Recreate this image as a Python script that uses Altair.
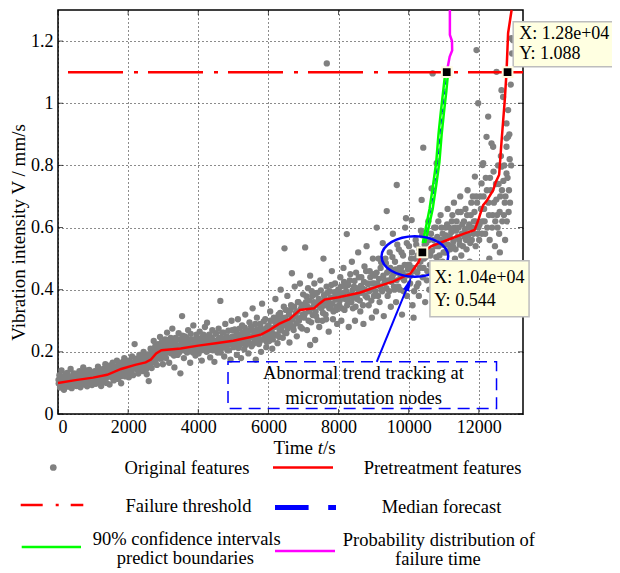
import altair as alt
import pandas as pd

FONT = "Liberation Serif"

# ---------------- data ----------------
seg_0 = [(20,0.098),(40,0.125),(60,0.085),(80,0.112),(100,0.140),(120,0.092),(150,0.105),(170,0.078),(200,0.118),(230,0.097),
         (260,0.132),(280,0.088),(310,0.110),(340,0.101),(360,0.145),(390,0.083),(420,0.121),(450,0.094),(470,0.108),(500,0.130),
         (530,0.090),(560,0.115),(590,0.099),(610,0.138),(640,0.086),(670,0.124),(700,0.106),(720,0.150),(750,0.095),(780,0.118),
         (810,0.128),(830,0.089),(860,0.112),(890,0.142),(910,0.101),(940,0.123),(970,0.093),(990,0.133),
         (15,0.110),(55,0.103),(92,0.121),(133,0.115),(181,0.099),(214,0.128),(247,0.107),(296,0.119),(327,0.090),(372,0.113),
         (405,0.102),(438,0.131),(486,0.116),(517,0.097),(548,0.125),(577,0.108),(623,0.119),(655,0.101),(688,0.134),(733,0.112),
         (768,0.103),(796,0.140),(845,0.121),(877,0.104),(921,0.116),(953,0.128),(984,0.110)]
seg_1 = [(1020,0.108),(1050,0.138),(1080,0.097),(1110,0.122),(1140,0.152),(1170,0.105),(1200,0.130),(1230,0.090),(1260,0.118),
         (1290,0.145),(1320,0.112),(1350,0.160),(1380,0.100),(1410,0.127),(1440,0.141),(1470,0.095),(1500,0.134),(1530,0.118),
         (1560,0.165),(1590,0.108),(1620,0.140),(1650,0.125),(1680,0.172),(1710,0.113),(1740,0.148),(1770,0.131),(1800,0.099),
         (1830,0.158),(1860,0.140),(1890,0.180),(1920,0.121),(1950,0.150),(1980,0.135),(1995,0.165),
         (1008,0.125),(1043,0.117),(1089,0.133),(1127,0.110),(1158,0.141),(1213,0.124),(1244,0.136),(1277,0.105),(1311,0.129),
         (1362,0.147),(1395,0.118),(1428,0.135),(1459,0.122),(1489,0.156),(1518,0.128),(1547,0.143),(1579,0.115),(1611,0.152),
         (1637,0.133),(1669,0.148),(1702,0.126),(1728,0.160),(1759,0.139),(1788,0.121),(1817,0.146),(1848,0.168),(1877,0.132),
         (1908,0.155),(1938,0.143),(1969,0.172)]
seg_2 = [(2020,0.118),(2050,0.158),(2080,0.140),(2110,0.185),(2140,0.125),(2185,0.225),(2200,0.160),(2230,0.145),(2260,0.172),
         (2290,0.130),(2320,0.190),(2350,0.155),(2380,0.168),(2410,0.138),(2440,0.200),(2470,0.150),(2500,0.178),(2530,0.128),
         (2560,0.192),(2588,0.106),(2610,0.165),(2640,0.210),(2670,0.148),(2700,0.185),(2730,0.235),(2760,0.170),(2790,0.205),
         (2820,0.158),(2850,0.225),(2880,0.190),(2910,0.248),(2940,0.178),(2970,0.212),(2990,0.160),
         (2012,0.140),(2037,0.172),(2066,0.151),(2098,0.133),(2126,0.165),(2157,0.148),(2213,0.178),(2244,0.158),(2273,0.141),
         (2307,0.170),(2336,0.182),(2364,0.146),(2397,0.176),(2425,0.160),(2456,0.188),(2486,0.165),(2516,0.145),(2547,0.174),
         (2576,0.157),(2598,0.182),(2626,0.172),(2655,0.195),(2686,0.166),(2716,0.202),(2745,0.183),(2774,0.218),(2806,0.190),
         (2836,0.205),(2866,0.178),(2896,0.215),(2926,0.198),(2955,0.230),(2984,0.205)]
seg_3 = [(3020,0.200),(3050,0.240),(3080,0.180),(3110,0.262),(3140,0.215),(3170,0.165),(3200,0.230),(3230,0.195),(3260,0.275),
         (3290,0.210),(3320,0.150),(3350,0.245),(3380,0.222),(3410,0.190),(3440,0.260),(3470,0.205),(3490,0.131),(3520,0.235),
         (3538,0.315),(3560,0.212),(3590,0.180),(3620,0.250),(3650,0.228),(3680,0.198),(3710,0.270),(3740,0.215),(3770,0.165),
         (3800,0.240),(3830,0.205),(3860,0.285),(3890,0.228),(3920,0.188),(3950,0.255),(3980,0.218),
         (3008,0.222),(3036,0.190),(3066,0.215),(3097,0.238),(3126,0.198),(3156,0.228),(3186,0.210),(3216,0.245),(3246,0.205),
         (3276,0.225),(3306,0.188),(3336,0.232),(3366,0.202),(3396,0.218),(3426,0.240),(3456,0.198),(3506,0.220),(3546,0.252),
         (3576,0.205),(3606,0.230),(3636,0.212),(3666,0.245),(3696,0.200),(3726,0.235),(3756,0.222),(3786,0.258),(3816,0.215),
         (3846,0.198),(3876,0.240),(3906,0.220),(3936,0.205),(3966,0.245),(3994,0.230)]
seg_4 = [(4010,0.195),(4040,0.265),(4070,0.230),(4100,0.172),(4130,0.248),(4160,0.212),(4190,0.280),(4220,0.235),(4250,0.294),
         (4280,0.205),(4310,0.255),(4340,0.182),(4370,0.240),(4400,0.270),(4430,0.220),(4460,0.168),(4490,0.258),(4520,0.232),
         (4550,0.198),(4580,0.275),(4610,0.245),(4629,0.364),(4650,0.210),(4680,0.262),(4710,0.225),(4740,0.185),(4770,0.290),
         (4800,0.240),(4830,0.205),(4860,0.268),(4890,0.228),(4920,0.175),(4950,0.300),(4980,0.250),
         (4023,0.215),(4055,0.242),(4086,0.205),(4115,0.228),(4146,0.255),(4176,0.218),(4206,0.240),(4236,0.200),(4266,0.232),
         (4296,0.250),(4326,0.215),(4356,0.228),(4386,0.245),(4416,0.205),(4446,0.235),(4476,0.222),(4506,0.260),(4536,0.212),
         (4566,0.240),(4596,0.228),(4636,0.198),(4666,0.245),(4696,0.232),(4726,0.262),(4756,0.215),(4786,0.238),(4816,0.250),
         (4846,0.222),(4876,0.205),(4906,0.245),(4936,0.232),(4966,0.270),(4994,0.220)]
seg_5 = [(5010,0.215),(5040,0.272),(5070,0.238),(5100,0.190),(5130,0.305),(5160,0.255),(5190,0.222),(5220,0.180),(5250,0.285),
         (5280,0.245),(5310,0.208),(5340,0.320),(5370,0.262),(5400,0.230),(5430,0.195),(5460,0.295),(5490,0.250),(5520,0.218),
         (5550,0.340),(5580,0.270),(5610,0.235),(5640,0.175),(5670,0.310),(5700,0.258),(5730,0.225),(5760,0.290),(5790,0.200),
         (5820,0.355),(5850,0.268),(5880,0.240),(5910,0.305),(5940,0.215),(5970,0.280),(5995,0.250),
         (5022,0.245),(5054,0.228),(5086,0.262),(5116,0.240),(5146,0.212),(5176,0.275),(5206,0.250),(5236,0.230),(5266,0.262),
         (5296,0.242),(5326,0.278),(5356,0.222),(5386,0.255),(5416,0.240),(5446,0.268),(5476,0.228),(5506,0.282),(5536,0.248),
         (5566,0.225),(5596,0.262),(5626,0.290),(5656,0.240),(5686,0.272),(5716,0.250),(5746,0.232),(5776,0.280),(5806,0.262),
         (5836,0.240),(5866,0.298),(5896,0.255),(5926,0.275),(5956,0.232),(5986,0.265)]
seg_6 = [(6020,0.235),(6050,0.330),(6080,0.275),(6110,0.210),(6140,0.300),(6170,0.255),(6200,0.370),(6230,0.285),(6260,0.228),
         (6290,0.320),(6320,0.268),(6350,0.400),(6380,0.295),(6410,0.245),(6440,0.345),(6459,0.533),(6480,0.310),(6510,0.260),
         (6540,0.380),(6570,0.290),(6600,0.230),(6630,0.335),(6670,0.453),(6690,0.305),(6720,0.270),(6750,0.410),(6780,0.325),
         (6810,0.250),(6840,0.360),(6870,0.300),(6900,0.420),(6930,0.340),(6960,0.275),(6990,0.385),
         (6008,0.285),(6036,0.252),(6066,0.300),(6096,0.265),(6126,0.240),(6156,0.310),(6186,0.280),(6216,0.255),(6246,0.305),
         (6276,0.290),(6306,0.248),(6336,0.325),(6366,0.275),(6396,0.310),(6426,0.285),(6466,0.262),(6496,0.335),(6526,0.298),
         (6556,0.275),(6586,0.320),(6616,0.290),(6646,0.350),(6676,0.305),(6706,0.280),(6736,0.345),(6766,0.315),(6796,0.292),
         (6826,0.330),(6856,0.360),(6886,0.308),(6916,0.280),(6946,0.352),(6976,0.320)]
seg_7 = [(7020,0.310),(7048,0.536),(7070,0.360),(7100,0.270),(7130,0.405),(7160,0.330),(7190,0.445),(7191,0.222),(7220,0.295),
         (7250,0.380),(7280,0.345),(7310,0.420),(7333,0.238),(7360,0.315),(7390,0.390),(7420,0.355),(7450,0.280),(7480,0.430),
         (7510,0.340),(7540,0.300),(7570,0.500),(7600,0.370),(7630,0.320),(7660,0.410),(7690,0.355),(7720,0.265),(7750,0.395),
         (7780,0.340),(7810,0.460),(7840,0.305),(7870,0.375),(7900,0.420),(7930,0.335),(7960,0.290),(7990,0.400),(7665,1.128),
         (7008,0.350),(7036,0.322),(7086,0.378),(7116,0.345),(7146,0.300),(7176,0.365),(7206,0.338),(7236,0.395),(7266,0.318),
         (7296,0.360),(7326,0.385),(7346,0.330),(7376,0.352),(7406,0.302),(7436,0.370),(7466,0.345),(7496,0.398),(7526,0.358),
         (7556,0.325),(7586,0.382),(7616,0.350),(7646,0.305),(7676,0.390),(7706,0.362),(7736,0.340),(7766,0.375),(7796,0.415),
         (7826,0.355),(7856,0.330),(7886,0.392),(7916,0.368),(7946,0.345),(7976,0.380)]
seg_8 = [(8020,0.350),(8050,0.440),(8080,0.300),(8110,0.385),(8140,0.470),(8170,0.335),(8200,0.410),(8235,0.579),(8260,0.365),
         (8290,0.280),(8320,0.430),(8350,0.385),(8380,0.490),(8410,0.340),(8440,0.410),(8470,0.300),(8500,0.455),(8530,0.370),
         (8560,0.520),(8590,0.395),(8620,0.330),(8650,0.440),(8680,0.405),(8710,0.290),(8740,0.475),(8770,0.380),(8800,0.540),
         (8830,0.420),(8860,0.350),(8890,0.460),(8920,0.400),(8950,0.310),(8980,0.500),
         (8008,0.395),(8036,0.365),(8066,0.410),(8096,0.340),(8126,0.388),(8156,0.425),(8186,0.370),(8216,0.395),(8246,0.350),
         (8276,0.415),(8306,0.378),(8336,0.450),(8366,0.360),(8396,0.398),(8426,0.375),(8456,0.428),(8486,0.345),(8516,0.405),
         (8546,0.385),(8576,0.440),(8606,0.365),(8636,0.412),(8666,0.390),(8696,0.350),(8726,0.425),(8756,0.400),(8786,0.460),
         (8816,0.375),(8846,0.418),(8876,0.395),(8906,0.440),(8936,0.365),(8966,0.420),(8994,0.450)]
seg_9 = [(9010,0.380),(9040,0.445),(9070,0.330),(9089,0.600),(9110,0.420),(9140,0.500),(9170,0.360),(9200,0.470),(9230,0.400),
         (9260,0.550),(9290,0.315),(9320,0.430),(9350,0.485),(9374,0.653),(9400,0.380),(9430,0.460),(9460,0.520),(9490,0.345),
         (9520,0.440),(9550,0.580),(9580,0.410),(9610,0.490),(9640,0.360),(9660,0.737),(9690,0.455),(9720,0.530),(9750,0.400),
         (9780,0.470),(9810,0.320),(9840,0.510),(9870,0.430),(9900,0.600),(9923,0.630),(9950,0.380),(9980,0.480),
         (9022,0.420),(9054,0.395),(9086,0.455),(9124,0.380),(9156,0.435),(9186,0.410),(9216,0.488),(9246,0.395),(9276,0.445),
         (9306,0.420),(9336,0.500),(9366,0.405),(9386,0.455),(9416,0.430),(9446,0.395),(9476,0.470),(9506,0.425),(9536,0.505),
         (9566,0.450),(9596,0.400),(9626,0.465),(9656,0.430),(9676,0.545),(9706,0.410),(9736,0.470),(9766,0.440),(9796,0.520),
         (9826,0.455),(9856,0.395),(9886,0.480),(9916,0.445),(9946,0.550),(9976,0.465)]
seg_10 = [(10010,0.540),(10040,0.420),(10070,0.500),(10085,0.624),(10110,0.350),(10140,0.310),(10170,0.460),(10200,0.560),
          (10230,0.410),(10260,0.510),(10290,0.380),(10320,0.470),(10350,0.590),(10370,0.689),(10400,0.440),(10416,0.857),
          (10440,0.500),(10470,0.360),(10500,0.550),(10530,0.460),(10560,0.620),(10590,0.400),(10620,0.510),(10654,0.726),
          (10680,0.470),(10683,1.096),(10710,0.560),(10740,0.420),(10770,0.600),(10797,0.807),(10820,0.490),(10850,0.540),
          (10880,0.380),(10910,0.640),(10940,0.470),(10970,0.580),(10995,0.520),
          (10022,0.480),(10054,0.445),(10096,0.520),(10126,0.470),(10156,0.395),(10186,0.500),(10216,0.545),(10246,0.455),
          (10276,0.420),(10306,0.530),(10336,0.490),(10386,0.575),(10426,0.470),(10456,0.545),(10486,0.505),(10516,0.430),
          (10546,0.520),(10576,0.560),(10606,0.480),(10636,0.580),(10666,0.525),(10696,0.455),(10726,0.600),(10756,0.540),
          (10786,0.505),(10816,0.570),(10846,0.620),(10876,0.510),(10906,0.560),(10936,0.600),(10966,0.490),(10986,0.545)]
seg_11 = [(11020,0.450),(11050,0.600),(11080,0.520),(11110,0.660),(11140,0.480),(11170,0.570),(11200,0.420),(11230,0.620),
          (11260,0.540),(11290,0.680),(11320,0.500),(11350,0.590),(11380,0.450),(11410,0.650),(11440,0.560),(11470,0.700),
          (11500,0.510),(11530,0.610),(11560,0.470),(11590,0.570),(11620,0.660),(11650,0.530),(11680,0.720),(11710,0.600),
          (11740,0.490),(11770,0.640),(11800,0.560),(11830,0.700),(11860,0.620),(11888,0.764),(11910,0.540),(11935,1.171),
          (11950,0.680),(11982,1.000),(11990,0.600),
          (11008,0.560),(11036,0.520),(11066,0.575),(11096,0.610),(11126,0.545),(11156,0.600),(11186,0.530),(11216,0.585),
          (11246,0.640),(11276,0.555),(11306,0.600),(11336,0.530),(11366,0.620),(11396,0.570),(11426,0.600),(11456,0.545),
          (11486,0.650),(11516,0.580),(11546,0.540),(11576,0.620),(11606,0.595),(11636,0.560),(11666,0.640),(11696,0.575),
          (11726,0.610),(11756,0.550),(11786,0.680),(11816,0.600),(11846,0.580),(11876,0.650),(11906,0.620),(11926,0.700),
          (11966,0.580)]
seg_12 = [(12010,0.560),(12040,0.700),(12077,0.742),(12100,0.620),(12107,0.801),(12124,0.807),(12150,0.660),(12180,0.580),
          (12220,0.892),(12230,0.720),(12267,0.957),(12290,0.640),(12320,0.760),(12362,0.871),(12380,0.600),(12409,0.860),
          (12430,0.680),(12460,0.540),(12490,0.740),(12505,1.101),(12520,0.640),(12550,0.800),(12580,0.580),(12610,0.700),
          (12647,0.796),(12647,1.042),(12670,0.620),(12693,1.020),(12700,0.750),(12740,0.680),(12790,0.774),(12790,0.860),
          (12790,0.887),(12790,0.935),(12835,0.978),(12835,0.892),(12850,0.650),(12932,1.209),(12950,1.160),(12978,1.203),
          (12860,0.720),(12880,0.820),(12150,0.480),(12300,0.500),(12450,0.470),(12600,0.520),(12750,0.560),
          (12020,0.610),(12060,0.660),(12090,0.580),(12135,0.700),(12165,0.620),(12200,0.760),(12240,0.600),(12275,0.680),
          (12310,0.560),(12345,0.720),(12395,0.640),(12420,0.780),(12470,0.620),(12500,0.690),(12535,0.600),(12565,0.740),
          (12595,0.650),(12630,0.830),(12660,0.720),(12715,0.640),(12725,0.800),(12760,0.700),(12800,0.620),(12820,0.760),
          (12870,0.900),(12890,0.680),(12910,1.060),(12920,0.800)]

pre_t = [0,500,1000,1400,1800,2200,2500,2650,2800,2950,3500,4000,4500,5000,5500,5800,6000,6300,6600,6900,7300,7450,7600,
         8000,8600,9100,9550,10050,10280,10390,10650,11180,11600,11880,11990,12030,12124,12220,12410,12485,12580,12650,
         12740,12790,12835,12935]
pre_v = [0.100,0.109,0.117,0.126,0.145,0.158,0.166,0.175,0.195,0.205,0.211,0.220,0.228,0.236,0.248,0.256,0.268,0.290,0.305,
         0.335,0.340,0.355,0.368,0.376,0.390,0.410,0.426,0.452,0.488,0.520,0.540,0.563,0.581,0.592,0.625,0.640,0.672,0.685,
         0.720,0.747,0.770,0.880,1.010,1.100,1.226,1.300]

threshold = [1.1]

ci_upper_t = [10400,10490,10595,10700,10785,10850,10915,10985,11045]
ci_lower_t = [10470,10570,10685,10790,10875,10940,11005,11075,11125]
ci_v = [0.55,0.60,0.66,0.74,0.81,0.90,0.97,1.04,1.10]
median_t = [10435,10530,10640,10745,10830,10895,10960,11030,11085]

pdf_t = [11085,11170,11240,11235,11175,11175]
pdf_v = [1.10,1.15,1.17,1.20,1.22,1.30]

marker_t = [10390, 11085, 12820]
marker_v = [0.520, 1.100, 1.100]

tip_lines = ["X: 1.04e+04", "Y: 0.544", "X: 1.28e+04", "Y: 1.088"]
tip_text_t = [10730, 10730, 13150, 13150]
tip_text_v = [0.437, 0.364, 1.2227, 1.160]
tip_box_t = [10606, 12980]
tip_box_t2 = [13433, 15957]
tip_box_v = [0.313, 1.117]
tip_box_v2 = [0.493, 1.262]

note_lines = ["Abnormal trend tracking at", "micromutation nodes"]
note_t = [8713, 8713]
note_v = [0.131, 0.0505]
note_box = dict(t=[4848], t2=[12505], v=[0.018], v2=[0.168])

ellipse_center = dict(t=[10177], v=[0.507])
arrow_t = [9089, 10004]
arrow_v = [0.168, 0.420]

x_ticks = [0, 2000, 4000, 6000, 8000, 10000, 12000]
y_ticks = [0, 0.2, 0.4, 0.6, 0.8, 1.0, 1.2]

legend_labels = ["Original features", "Pretreatment features", "Failure threshold", "Median forecast",
                 "90% confidence intervals", "predict boundaries", "Probability distribution of", "failure time"]
legend_label_x = [129, 384.5, 130.5, 383.5, 128.7, 127.3, 380.9, 379.9]
legend_label_y = [457.5, 457.5, 495.5, 496.5, 529.0, 547.5, 530.0, 548.5]

# ---------------- frames ----------------
original = seg_0 + seg_1 + seg_2 + seg_3 + seg_4 + seg_5 + seg_6 + seg_7 + seg_8 + seg_9 + seg_10 + seg_11 + seg_12
orig_df = pd.DataFrame(original, columns=["t", "v"])
pre_df = pd.DataFrame({"t": pre_t, "v": pre_v, "i": range(len(pre_t))})
thr_df = pd.DataFrame({"v": threshold})
ci_df = pd.concat([
    pd.DataFrame({"t": ci_upper_t, "v": ci_v, "b": "upper", "i": range(len(ci_v))}),
    pd.DataFrame({"t": ci_lower_t, "v": ci_v, "b": "lower", "i": range(len(ci_v))}),
])
med_df = pd.DataFrame({"t": median_t, "v": ci_v, "i": range(len(ci_v))})
pdf_df = pd.DataFrame({"t": pdf_t, "v": pdf_v, "i": range(len(pdf_t))})
mark_df = pd.DataFrame({"t": marker_t, "v": marker_v})
tip_txt_df = pd.DataFrame({"t": tip_text_t, "v": tip_text_v, "s": tip_lines})
tip_box_df = pd.DataFrame({"t": tip_box_t, "t2": tip_box_t2, "v": tip_box_v, "v2": tip_box_v2})
note_df = pd.DataFrame({"t": note_t, "v": note_v, "s": note_lines})
note_box_df = pd.DataFrame(note_box)
ell_df = pd.DataFrame(ellipse_center)
arrow_df = pd.DataFrame({"t": arrow_t, "v": arrow_v, "i": [0, 1]})
arrow_head_df = pd.DataFrame({"t": arrow_t[1:], "v": arrow_v[1:]})
xt_df = pd.DataFrame({"t": x_ticks})
yt_df = pd.DataFrame({"v": y_ticks})
one = pd.DataFrame({"a": [0]})

W, H = 465, 404
XS = alt.Scale(domain=[0, 13260], nice=False, zero=False)
YS = alt.Scale(domain=[0, 1.3], nice=False, zero=False)

x_axis = alt.Axis(values=x_ticks, format="d", grid=True, gridDash=[1, 3], gridColor="black", gridOpacity=0.9,
                  ticks=False, domain=False, labelFont=FONT, labelFontSize=18, labelColor="black",
                  labelPadding=4, labelFlush=True, title=None)
y_axis = alt.Axis(values=y_ticks, format="~g", grid=True, gridDash=[1, 3], gridColor="black", gridOpacity=0.9,
                  ticks=False, domain=False, labelFont=FONT, labelFontSize=18, labelColor="black",
                  labelPadding=5, title="Vibration intensity V / mm/s", titleFont=FONT, titleFontSize=19,
                  titleFontWeight="normal", titleColor="black", titleAngle=270, titleAlign="center",
                  titleBaseline="middle", titleX=-40, titleY=222)


def X(f="t"):
    return alt.X(f"{f}:Q", scale=XS, axis=x_axis)


def Y(f="v"):
    return alt.Y(f"{f}:Q", scale=YS, axis=y_axis)


scatter = alt.Chart(orig_df).mark_circle(color="#808080", size=40, opacity=1).encode(x=X(), y=Y())

pre_line = alt.Chart(pre_df).mark_line(color="#ff0000", strokeWidth=2.5).encode(x=X(), y=Y(), order="i:Q")
thr_line = alt.Chart(thr_df).mark_rule(color="#ff0000", strokeWidth=2.5, strokeDash=[55, 10, 4, 11]).encode(y=Y())
ci_lines = alt.Chart(ci_df).mark_line(color="#00ff00", strokeWidth=2.5).encode(x=X(), y=Y(), detail="b:N", order="i:Q")
med_line = alt.Chart(med_df).mark_line(color="#0000ff", strokeWidth=1, strokeDash=[6, 4]).encode(x=X(), y=Y(), order="i:Q")
pdf_line = alt.Chart(pdf_df).mark_line(color="#ff00ff", strokeWidth=2.5).encode(x=X(), y=Y(), order="i:Q")

ELLIPSE = ("M -1 0 C -1 -0.337 -0.552 -0.61 0 -0.61 C 0.552 -0.61 1 -0.337 1 0 "
           "C 1 0.337 0.552 0.61 0 0.61 C -0.552 0.61 -1 0.337 -1 0 Z")
ellipse = alt.Chart(ell_df).mark_point(shape=ELLIPSE, size=4436, filled=False, stroke="#0000ff",
                                       strokeWidth=2.5, opacity=1).encode(x=X(), y=Y())
arrow_line = alt.Chart(arrow_df).mark_line(color="#0000ff", strokeWidth=2).encode(x=X(), y=Y(), order="i:Q")
arrow_head = alt.Chart(arrow_head_df).mark_point(shape="M 0 -1 L 0.42 1 L -0.42 1 Z", size=225, filled=True,
                                                 color="#0000ff", opacity=1, angle=22).encode(x=X(), y=Y())

markers = alt.Chart(mark_df).mark_point(shape="square", size=95, filled=True, fill="black", stroke="#fffbe0",
                                        strokeWidth=2, opacity=1).encode(x=X(), y=Y())

note_box_mark = alt.Chart(note_box_df).mark_rect(fillOpacity=0, stroke="#0000ff", strokeWidth=1.5,
                                                 strokeDash=[12, 7]).encode(x=X(), x2="t2", y=Y(), y2="v2")
note_text = alt.Chart(note_df).mark_text(font=FONT, fontSize=18.5, color="black", align="center",
                                         baseline="middle").encode(x=X(), y=Y(), text="s:N")

tip_boxes = alt.Chart(tip_box_df).mark_rect(fill="#ffffe1", stroke="#bdbdbd", strokeWidth=1.5).encode(
    x=X(), x2="t2", y=Y(), y2="v2")
tip_text = alt.Chart(tip_txt_df).mark_text(font=FONT, fontSize=18, color="black", align="left",
                                           baseline="middle").encode(x=X(), y=Y(), text="s:N")

xt_bottom = alt.Chart(xt_df).mark_tick(color="black", size=5, thickness=1, orient="vertical").encode(
    x=X(), y=alt.value(H - 2.5))
xt_top = alt.Chart(xt_df).mark_tick(color="black", size=5, thickness=1, orient="vertical").encode(
    x=X(), y=alt.value(2.5))
yt_left = alt.Chart(yt_df).mark_tick(color="black", size=5, thickness=1, orient="horizontal").encode(
    y=Y(), x=alt.value(2.5))
yt_right = alt.Chart(yt_df).mark_tick(color="black", size=5, thickness=1, orient="horizontal").encode(
    y=Y(), x=alt.value(W - 2.5))


def ptext(txt, x, y, align="left", style="normal", size=19):
    return alt.Chart(one).mark_text(text=txt, font=FONT, fontSize=size, color="black", align=align,
                                    baseline="middle", fontStyle=style).encode(x=alt.value(x), y=alt.value(y))


def prule(x1, x2, y, color, width, dash=None):
    kw = dict(color=color, strokeWidth=width)
    if dash is not None:
        kw["strokeDash"] = dash
    return alt.Chart(one).mark_rule(**kw).encode(x=alt.value(x1), x2=alt.value(x2), y=alt.value(y))


x_title = [ptext("Time", 255, 437.7, align="right"), ptext("t", 259.7, 437.7, style="italic"),
           ptext("/s", 265, 437.7)]

legend_text = [ptext(s, x, y, align="center", size=18.5)
               for s, x, y in zip(legend_labels, legend_label_x, legend_label_y)]

legend_marks = [
    alt.Chart(one).mark_circle(color="#808080", size=45, opacity=1).encode(x=alt.value(-4.7), y=alt.value(457.5)),
    prule(215, 275, 457.5, "#ff0000", 2.5),
    prule(-37.3, 25.3, 495, "#ff0000", 2.5, [22, 13, 3, 12]),
    prule(217, 278, 497.5, "#0000ff", 5, [33.6, 19.6]),
    prule(-36.3, 23, 537, "#00ff00", 2.5),
    prule(217, 277, 541, "#ff00ff", 2.5),
]

chart = alt.layer(
    scatter, pre_line, thr_line, med_line, ci_lines, pdf_line, note_box_mark, note_text,
    arrow_line, arrow_head, ellipse, xt_bottom, xt_top, yt_left, yt_right, tip_boxes, tip_text, markers,
    *x_title, *legend_text, *legend_marks
).properties(
    width=W, height=H,
    autosize=alt.AutoSizeParams(type="none"),
    padding={"left": 50, "top": 2, "right": 89, "bottom": 155},
    background="white",
).configure_view(stroke="black", strokeWidth=1.5)

chart.save("out.html", embed_options={"renderer": "svg", "actions": False})
